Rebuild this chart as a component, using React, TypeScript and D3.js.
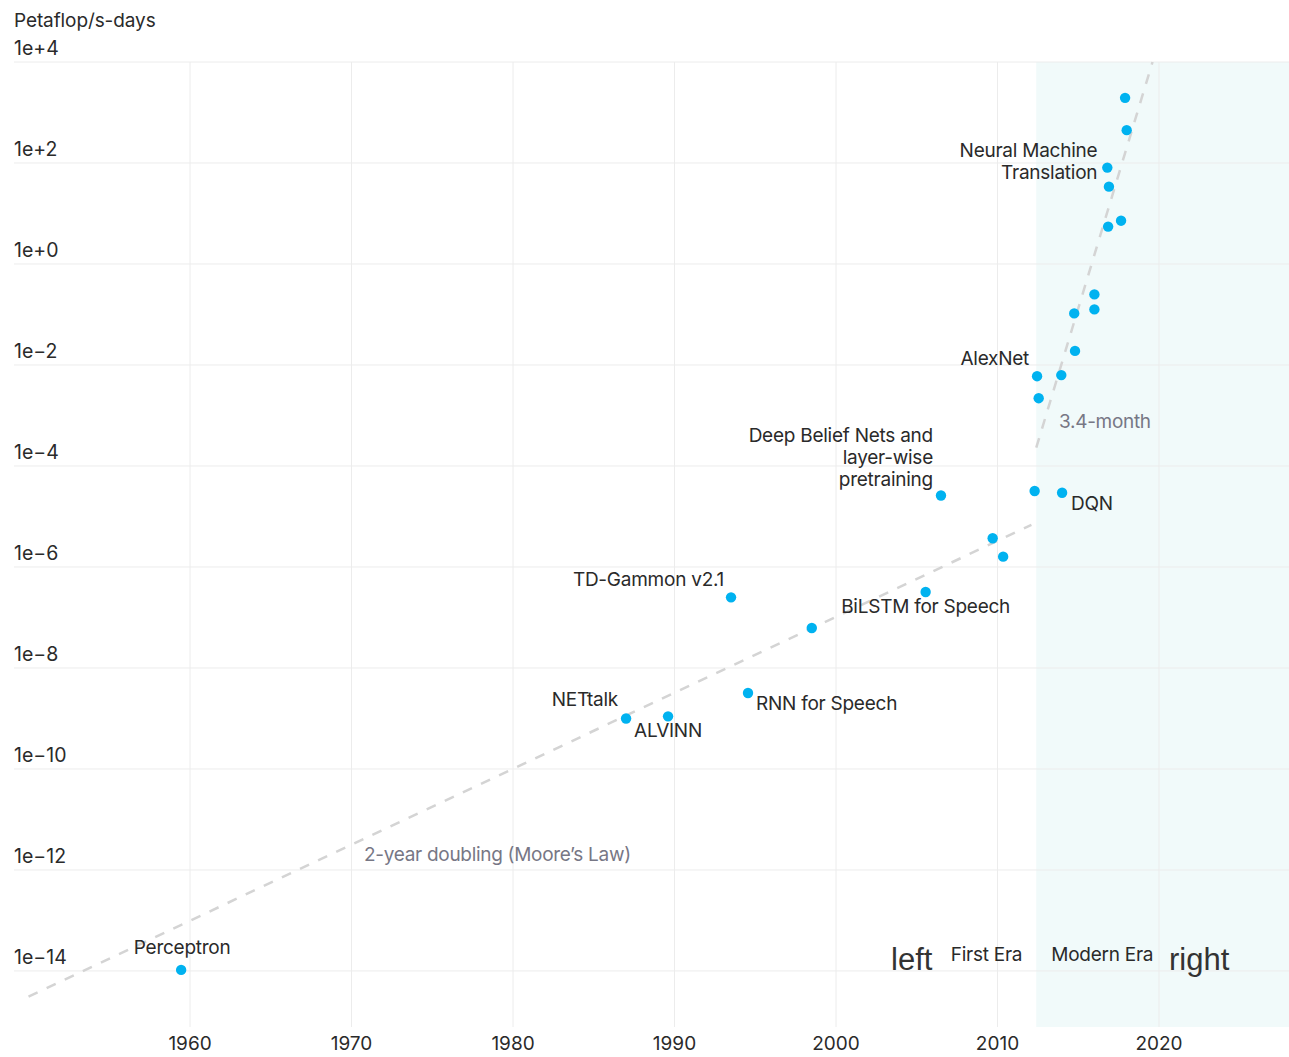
import React, { useEffect, useRef } from "react";
import * as d3 from "d3";

// year, petaflop/s-days
const years = [
  1959.45, 1987.0, 1989.6, 1993.5, 1994.55, 1998.5, 2005.55, 2006.5, 2009.7, 2010.35,
  2012.3, 2014.0, 2012.45, 2012.55, 2013.95, 2014.8, 2014.75, 2016.0, 2016.0, 2016.85,
  2017.65, 2016.9, 2016.8, 2018.0, 2017.9,
];
const compute = [
  1.05e-14, 1.0e-9, 1.1e-9, 2.5e-7, 3.2e-9, 6.2e-8, 3.2e-7, 2.6e-5, 3.7e-6, 1.6e-6,
  3.2e-5, 2.95e-5, 6.0e-3, 2.2e-3, 6.3e-3, 1.9e-2, 0.105, 0.25, 0.126, 5.5,
  7.2, 34, 81, 447, 1950,
];
const names = [
  "Perceptron", "NETtalk", "ALVINN", "TD-Gammon v2.1", "RNN for Speech", "", "BiLSTM for Speech",
  "Deep Belief Nets and\nlayer-wise\npretraining", "", "", "", "DQN", "AlexNet", "", "", "", "", "", "", "",
  "", "", "Neural Machine\nTranslation", "", "",
];

// two trend lines [year, value]
const mooreLine: [number, number][] = [[1950, 3.1e-15], [2012.1, 6.8e-6]];
const modernLine: [number, number][] = [[2012.4, 2.3e-4], [2019.6, 1e4]];
const modernStart = 2012.4;

const yTicks = [1e4, 1e2, 1, 1e-2, 1e-4, 1e-6, 1e-8, 1e-10, 1e-12, 1e-14];
const yTickLabels = ["1e+4", "1e+2", "1e+0", "1e\u22122", "1e\u22124", "1e\u22126", "1e\u22128", "1e\u221210", "1e\u221212", "1e\u221214"];
const xTicks = [1960, 1970, 1980, 1990, 2000, 2010, 2020];

// label placement: anchor, dx, dy of first line baseline
const labelPos: Record<string, [string, number, number]> = {
  "Perceptron": ["middle", 1, -16],
  "NETtalk": ["end", -8, -12],
  "ALVINN": ["middle", 0, 21],
  "TD-Gammon v2.1": ["end", -7, -11],
  "RNN for Speech": ["start", 8, 17],
  "BiLSTM for Speech": ["middle", 0, 21],
  "Deep Belief Nets and\nlayer-wise\npretraining": ["end", -8, -54],
  "DQN": ["start", 9, 17],
  "AlexNet": ["end", -8, -11],
  "Neural Machine\nTranslation": ["end", -10, -11],
};

const W = 1289, H = 1057;
const font = "Inter, 'Noto Sans', sans-serif";
const fs = 19;

export default function App() {
  const ref = useRef<SVGSVGElement>(null);

  useEffect(() => {
    const svg = d3.select(ref.current);
    svg.selectAll("*").remove();

    const x = d3.scaleLinear().domain([1949.1, 2028.05]).range([14, 1289]);
    const y = d3.scaleLog().domain([Math.pow(10, -15.11), 1e4]).range([1027, 62]);

    // modern era shading
    svg.append("rect")
      .attr("x", x(modernStart)).attr("y", y(1e4))
      .attr("width", x.range()[1] - x(modernStart))
      .attr("height", y.range()[0] - y(1e4))
      .attr("fill", "#f1fafa");

    // grid
    svg.append("g").selectAll("line").data(yTicks).join("line")
      .attr("x1", 14).attr("x2", 1289)
      .attr("y1", d => y(d)).attr("y2", d => y(d))
      .attr("stroke", "#ececec").attr("stroke-width", 1);
    svg.append("g").selectAll("line").data(xTicks).join("line")
      .attr("x1", d => x(d)).attr("x2", d => x(d))
      .attr("y1", y(1e4)).attr("y2", y.range()[0])
      .attr("stroke", "#ececec").attr("stroke-width", 1);

    // axis labels
    svg.append("g").selectAll("text").data(yTicks).join("text")
      .attr("x", 14).attr("y", d => y(d) - 7)
      .attr("font-family", font).attr("font-size", 19.5).attr("fill", "#2a2a2a")
      .text((d, i) => yTickLabels[i]);
    svg.append("g").selectAll("text").data(xTicks).join("text")
      .attr("x", d => x(d)).attr("y", 1050).attr("text-anchor", "middle")
      .attr("font-family", font).attr("font-size", fs).attr("fill", "#2a2a2a")
      .text(d => d);
    svg.append("text").attr("x", 14).attr("y", 27)
      .attr("font-family", font).attr("font-size", fs).attr("fill", "#2a2a2a")
      .attr("letter-spacing", -0.1)
      .text("Petaflop/s-days");

    // trend lines
    const line = d3.line<[number, number]>().x(d => x(d[0])).y(d => y(d[1]));
    [mooreLine, modernLine].forEach(l => {
      svg.append("path").attr("d", line(l))
        .attr("fill", "none").attr("stroke", "#d4d4d4")
        .attr("stroke-width", 2.5).attr("stroke-dasharray", "10,10");
    });
    svg.append("text").attr("x", 364).attr("y", 861)
      .attr("font-family", font).attr("font-size", fs).attr("fill", "#777785")
      .attr("letter-spacing", -0.3)
      .text("2-year doubling (Moore\u2019s Law)");
    svg.append("text").attr("x", 1059).attr("y", 428)
      .attr("font-family", font).attr("font-size", fs).attr("fill", "#777785")
      .attr("letter-spacing", -0.3)
      .text("3.4-month");

    // points
    const pts = years.map((yr, i) => ({ yr, v: compute[i], name: names[i] }));
    svg.append("g").selectAll("circle").data(pts).join("circle")
      .attr("cx", d => x(d.yr)).attr("cy", d => y(d.v)).attr("r", 5.2)
      .attr("fill", "#00b2f0");

    // point labels
    pts.filter(d => d.name).forEach(d => {
      const [anchor, dx, dy] = labelPos[d.name];
      const t = svg.append("text")
        .attr("font-family", font).attr("font-size", fs).attr("fill", "#2a2a2a")
        .attr("letter-spacing", -0.25)
        .attr("text-anchor", anchor);
      d.name.split("\n").forEach((s, j) => {
        t.append("tspan").attr("x", x(d.yr) + dx).attr("y", y(d.v) + dy + j * 22).text(s);
      });
    });

    // era labels
    svg.append("text").attr("x", 891).attr("y", 970)
      .attr("font-family", "'Liberation Sans', Arial, sans-serif").attr("font-size", 31).attr("fill", "#333")
      .text("left");
    svg.append("text").attr("x", x(modernStart) - 14).attr("y", 961).attr("text-anchor", "end")
      .attr("font-family", font).attr("font-size", fs).attr("fill", "#2a2a2a").attr("letter-spacing", -0.25)
      .text("First Era");
    svg.append("text").attr("x", x(modernStart) + 15).attr("y", 961)
      .attr("font-family", font).attr("font-size", fs).attr("fill", "#2a2a2a").attr("letter-spacing", -0.25)
      .text("Modern Era");
    svg.append("text").attr("x", 1169).attr("y", 970)
      .attr("font-family", "'Liberation Sans', Arial, sans-serif").attr("font-size", 31).attr("fill", "#333")
      .text("right");
  }, []);

  return (
    <svg ref={ref} width={W} height={H}
      style={{ position: "absolute", left: 0, top: 0, background: "#fff" }} />
  );
}
